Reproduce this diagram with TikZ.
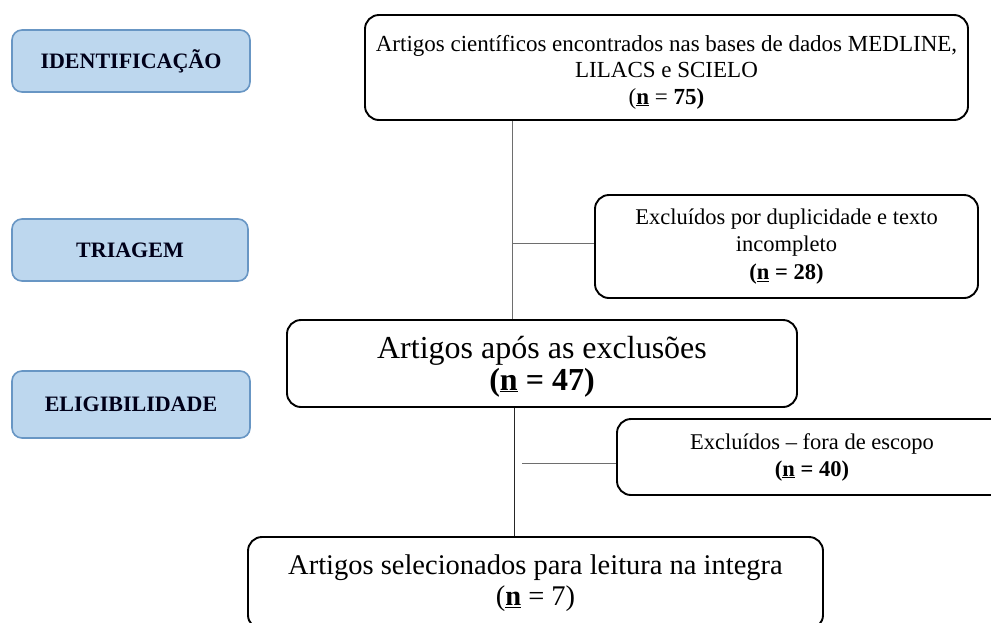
\documentclass[tikz,border=0pt]{standalone}
\usepackage{fontspec}
\setmainfont{Liberation Serif}
\definecolor{phasefill}{RGB}{189,215,238}
\definecolor{phasedraw}{RGB}{104,150,196}
\definecolor{linkgray}{RGB}{110,110,110}
\newcommand{\nn}{\underline{\textbf{n}}}
\begin{document}
\begin{tikzpicture}[x=1pt,y=-1pt,
  phase/.style={draw=phasedraw,fill=phasefill,line width=1.6pt,rounded corners=10pt,
    minimum width=#1,minimum height=62pt,inner sep=0pt,
    font=\fontsize{22}{24}\selectfont\bfseries,text=black!90!blue},
  flowbox/.style={draw=black,line width=1.9pt,rounded corners=14pt,inner sep=0pt,align=center},
  link/.style={draw=linkgray,line width=0.9pt}]
\useasboundingbox (0,0) rectangle (991,622);
\begin{scope}
\clip (0,0) rectangle (991,622);
% phase labels
\node[phase=238pt] (ident) at (131,61) {IDENTIFICAÇÃO};
\node[phase=236pt] (triag) at (130,250) {TRIAGEM};
\node[phase=238pt,minimum height=67pt] (elig) at (131,404.5) {ELIGIBILIDADE};
% flow boxes
\node[flowbox,minimum width=603pt,minimum height=105pt,font=\fontsize{23}{26.5}\selectfont] (top) at (666.5,67.5)
  {\rule{0pt}{25pt}Artigos científicos encontrados nas bases de dados MEDLINE,\\LILACS e SCIELO\\(\nn\ = \textbf{75)}};
\node[flowbox,minimum width=383pt,minimum height=103pt,font=\fontsize{22.5}{27.5}\selectfont] (excl1) at (786.5,246.5)
  {Excluídos por duplicidade e texto\\incompleto\\\textbf{(\nn\ = 28)}};
\node[flowbox,minimum width=510pt,minimum height=87pt,font=\fontsize{32}{32}\selectfont] (after) at (542,363.5)
  {\rule{0pt}{28pt}Artigos após as exclusões\\\textbf{(\nn\ = 47)}};
\node[flowbox,minimum width=390pt,minimum height=76pt,font=\fontsize{22.5}{27}\selectfont] (excl2) at (812,457)
  {Excluídos – fora de escopo\\\textbf{(\nn\ = 40)}};
\node[flowbox,minimum width=575pt,minimum height=92pt,font=\fontsize{28.5}{31}\selectfont] (sel) at (535.5,583)
  {Artigos selecionados para leitura na integra\\(\nn\ = 7)};
\end{scope}
% connectors
\coordinate (j1) at (512,243);
\coordinate (j2) at (514,463);
\coordinate (j2s) at (522,463);
\draw[link] (top.south -| j1) -- (after.north -| j1);
\draw[link] (j1) -- (excl1.west |- j1);
\draw[link,draw=black!85] (after.south -| j2) -- (sel.north -| j2);
\draw[link] (j2s) -- (excl2.west |- j2s);
\end{tikzpicture}
\end{document}
